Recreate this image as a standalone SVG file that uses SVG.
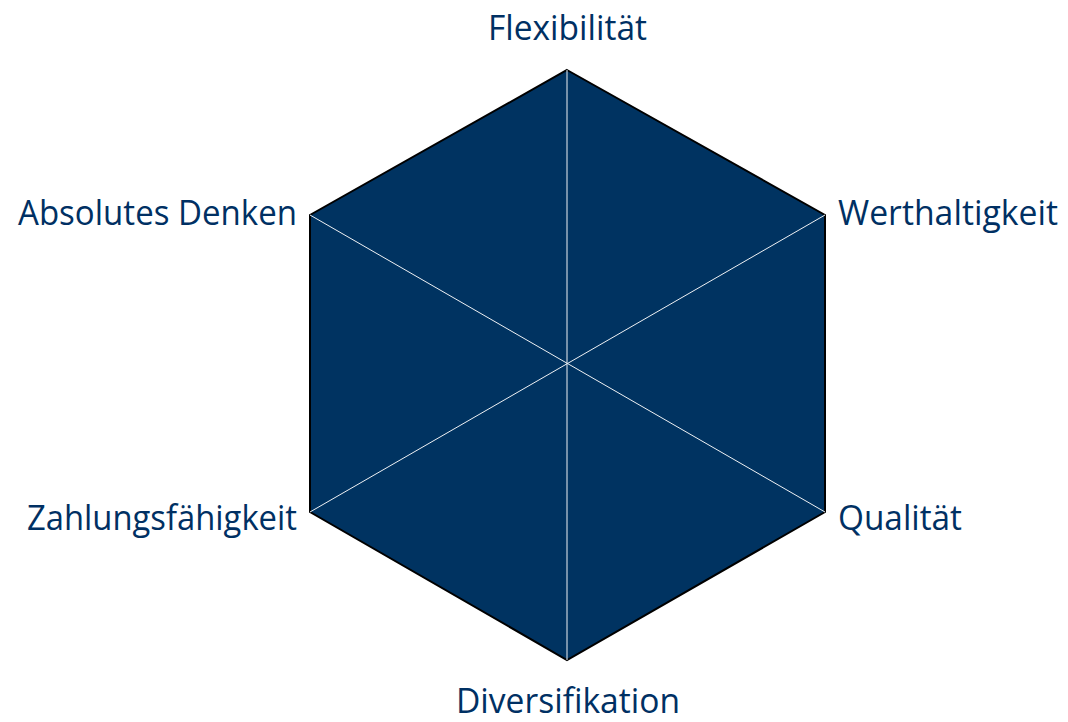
<svg xmlns="http://www.w3.org/2000/svg" width="1068" height="722" viewBox="0 0 1068 722">
<style>
.lbl{font-family:"Open Sans","Liberation Sans",sans-serif;font-size:34px;fill:#003063}
.tri{fill:#003361;stroke:none}
.spoke{stroke:#eef1f4;stroke-width:1}
.edge{fill:none;stroke:#000;stroke-width:2;stroke-linejoin:miter}
</style>
<rect width="1068" height="722" fill="#fff"/>
<g id="hexagon">
<polygon class="tri" points="567,70 825,215 825,512 567,660 310,512 310,215"/>
<polygon class="edge" points="567,70 825,215 825,512 567,660 310,512 310,215"/>
</g>
<g id="connectors">
<line class="spoke" x1="567" y1="70" x2="567" y2="660"/>
<line class="spoke" x1="825" y1="215" x2="310" y2="512"/>
<line class="spoke" x1="310" y1="215" x2="825" y2="512"/>
</g>
<g id="n-flex"><text class="lbl" x="488" y="40" textLength="159" lengthAdjust="spacingAndGlyphs">Flexibilität</text></g>
<g id="n-wert"><text class="lbl" x="838" y="225" textLength="220" lengthAdjust="spacingAndGlyphs">Werthaltigkeit</text></g>
<g id="n-abs"><text class="lbl" x="18" y="225" textLength="279" lengthAdjust="spacingAndGlyphs">Absolutes Denken</text></g>
<g id="n-qual"><text class="lbl" x="838" y="530" textLength="124" lengthAdjust="spacingAndGlyphs">Qualität</text></g>
<g id="n-zahl"><text class="lbl" x="27" y="530" textLength="270" lengthAdjust="spacingAndGlyphs">Zahlungsfähigkeit</text></g>
<g id="n-div"><text class="lbl" x="456" y="713" textLength="224" lengthAdjust="spacingAndGlyphs">Diversifikation</text></g>
</svg>
